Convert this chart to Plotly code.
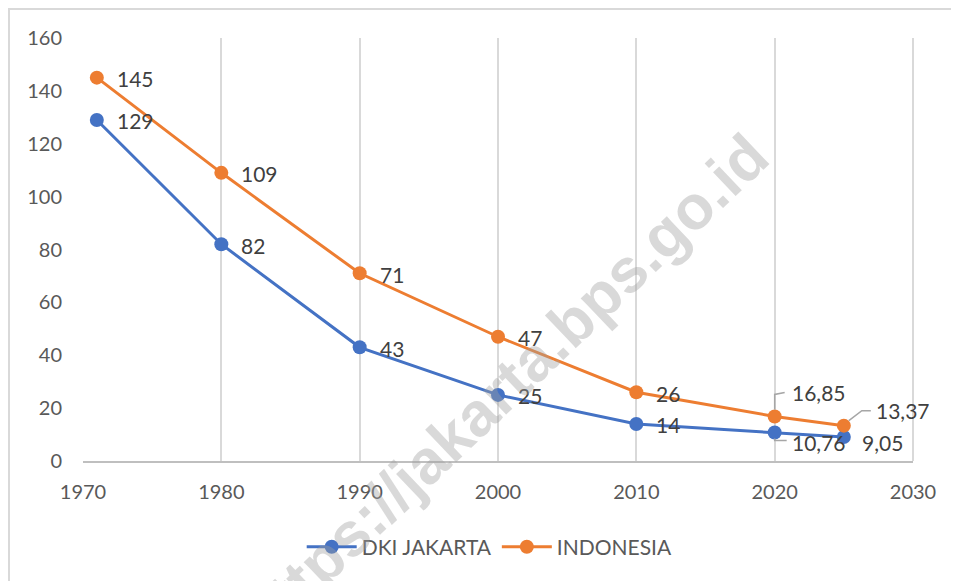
import plotly.graph_objects as go

years = [1971, 1980, 1990, 2000, 2010, 2020, 2025]
dki = [129, 82, 43, 25, 14, 10.76, 9.05]
indo = [145, 109, 71, 47, 26, 16.85, 13.37]
dki_labels = ["129", "82", "43", "25", "14", "10,76", "9,05"]
indo_labels = ["145", "109", "71", "47", "26", "16,85", "13,37"]
x_ticks = [1970, 1980, 1990, 2000, 2010, 2020, 2030]
y_ticks = [0, 20, 40, 60, 80, 100, 120, 140, 160]

BLUE = "#4472C4"
ORANGE = "#ED7D31"
TXT = "#404040"
FONT = "Lato, Carlito, 'Liberation Sans', sans-serif"
LBL = dict(size=21, color=TXT, family=FONT)

fig = go.Figure()
fig.add_trace(go.Scatter(x=years, y=dki, name="DKI JAKARTA", mode="lines+markers",
                         line=dict(color=BLUE, width=3), marker=dict(size=14, color=BLUE)))
fig.add_trace(go.Scatter(x=years, y=indo, name="INDONESIA", mode="lines+markers",
                         line=dict(color=ORANGE, width=3), marker=dict(size=14, color=ORANGE)))

annotations = []
shapes = []
for i in range(5):
    annotations.append(dict(x=years[i], y=dki[i], text=dki_labels[i], showarrow=False,
                            xanchor="left", yanchor="middle", xshift=18, yshift=-1, font=LBL))
    annotations.append(dict(x=years[i], y=indo[i], text=indo_labels[i], showarrow=False,
                            xanchor="left", yanchor="middle", xshift=18, yshift=-1, font=LBL))

# 2020 Indonesia label above-right with elbow leader
annotations.append(dict(x=years[5], y=indo[5], text=indo_labels[5], showarrow=False,
                        xanchor="left", yanchor="middle", xshift=15, yshift=24, font=LBL))
shapes.append(dict(type="path", xref="x", yref="y", xsizemode="pixel", ysizemode="pixel",
                   xanchor=years[5], yanchor=indo[5], path="M0,7 L0,22 L10,24",
                   line=dict(color="#A6A6A6", width=1.5)))
# 2020 DKI label below-right
annotations.append(dict(x=years[5], y=dki[5], text=dki_labels[5], showarrow=False,
                        xanchor="left", yanchor="middle", xshift=15, yshift=-10, font=LBL))
shapes.append(dict(type="path", xref="x", yref="y", xsizemode="pixel", ysizemode="pixel",
                   xanchor=years[5], yanchor=dki[5], path="M0,-6 L0,-8 L12,-8",
                   line=dict(color="#A6A6A6", width=1.5)))
# 2025 Indonesia label above-right
annotations.append(dict(x=years[6], y=indo[6], text=indo_labels[6], showarrow=False,
                        xanchor="left", yanchor="middle", xshift=30, yshift=15, font=LBL))
shapes.append(dict(type="path", xref="x", yref="y", xsizemode="pixel", ysizemode="pixel",
                   xanchor=years[6], yanchor=indo[6], path="M5,5 L18,15 L27,15",
                   line=dict(color="#A6A6A6", width=1.5)))
# 2025 DKI label right
annotations.append(dict(x=years[6], y=dki[6], text=dki_labels[6], showarrow=False,
                        xanchor="left", yanchor="middle", xshift=16, yshift=-5, font=LBL))

# watermark
annotations.append(dict(x=0.508, y=0.175, xref="paper", yref="paper", text="https://jakarta.bps.go.id",
                        showarrow=False, textangle=-43.6, xanchor="center", yanchor="middle",
                        font=dict(size=62, color="rgba(160,160,160,0.4)",
                                  family="'Liberation Sans', Arial, sans-serif", weight="bold")))

# gridline at right end of x range (paper edge of plot area)
shapes.append(dict(type="line", xref="paper", yref="paper", x0=1, x1=1, y0=0, y1=1,
                   line=dict(color="#D9D9D9", width=2), layer="below"))

# outer chart border (figure left/top edge)
shapes.append(dict(type="rect", xref="paper", yref="paper", x0=-74 / 830, x1=1.2, y0=-0.5,
                   y1=1 + 29 / 423, line=dict(color="#D9D9D9", width=2), layer="below"))

fig.update_layout(
    width=951, height=573,
    margin=dict(l=75, r=46, t=30, b=120),
    plot_bgcolor="white", paper_bgcolor="white",
    font=dict(family=FONT, size=20, color="#595959"),
    xaxis=dict(range=[1970, 2030], tickvals=x_ticks, showgrid=True, gridcolor="#D9D9D9",
               gridwidth=2, showline=True, linecolor="#BFBFBF", linewidth=2, zeroline=False,
               ticks="", tickfont=dict(size=20, color="#595959"), ticklabelstandoff=12,
               automargin=False),
    yaxis=dict(range=[0, 160], tickvals=y_ticks, showgrid=False, showline=False, zeroline=False,
               ticks="", tickfont=dict(size=20, color="#595959"), ticklabelstandoff=20,
               automargin=False),
    legend=dict(orientation="h", x=0.49, xanchor="center", y=-0.155, yanchor="top",
                font=dict(size=21, color="#595959", family=FONT), itemwidth=50),
    annotations=annotations,
    shapes=shapes,
    showlegend=True,
)

fig.write_html("out.html")
